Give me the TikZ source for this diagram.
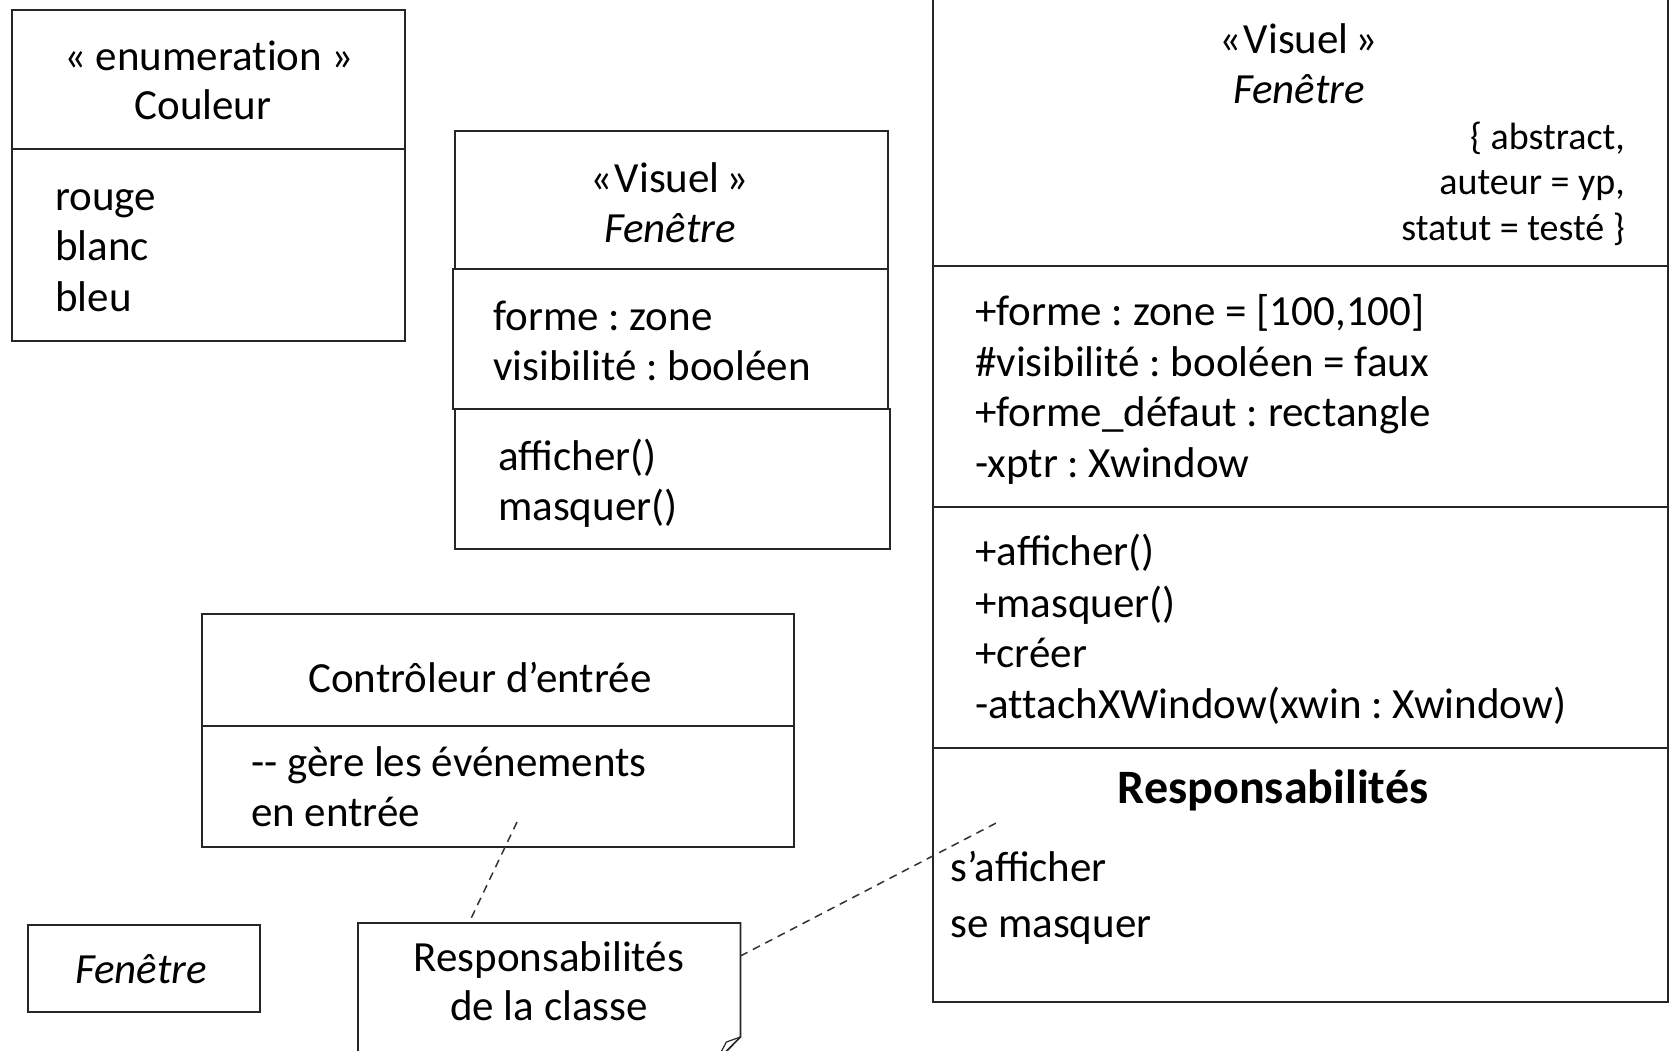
\documentclass[tikz,border=0pt]{standalone}
\usepackage{fontspec}
\setmainfont{Carlito}
\usetikzlibrary{calc}
\begin{document}
\frenchspacing
\begin{tikzpicture}[x=1pt,y=-1pt,
  box/.style={draw=black!85, line width=1.7pt, inner sep=0pt, anchor=north west},
  outline/.style={draw=black!85, line width=1.7pt, line join=miter},
  lbl/.style={anchor=base west, inner sep=0pt},
  mid/.style={anchor=base, inner sep=0pt},
  rgt/.style={anchor=base east, inner sep=0pt},
  small/.style={font=\fontsize{38}{44}\selectfont},
  title/.style={font=\fontsize{48}{54}\selectfont\bfseries},
  dashline/.style={draw=black!80, line width=1.5pt, dash pattern=on 8pt off 6pt}]
\fontsize{43}{50}\selectfont
\clip (0,0) rectangle (1669,1050);
\fill[white] (0,0) rectangle (1669,1050);

% enumeration Couleur
\node[box, minimum width=393pt, minimum height=139pt] (couleurHead) at (11,9) {};
\node[box, minimum width=393pt, minimum height=192pt] (couleurBody) at (11,148) {};
\node[mid] (enumSt) at (209,70) {« enumerat\kern0pt ion »};
\node[mid] (enumName) at (203,119) {Couleur};
\node[lbl] (litRouge) at (55,210) {rouge};
\node[lbl] (litBlanc) at (55,260) {blanc};
\node[lbl] (litBleu) at (55,311) {bleu};

% class Fenetre, simple form
\node[box, minimum width=433pt, minimum height=138pt] (fenHead) at (454,130) {};
\node[box, minimum width=435pt, minimum height=140pt] (fenAttr) at (452,268) {};
\node[box, minimum width=435pt, minimum height=140pt] (fenOps) at (454,408) {};
\node[mid] (fenSt) at (670,192) {«\kern2pt Visuel\,»};
\node[mid] (fenName) at (670,242) {\itshape Fenêtre};
\node[lbl] (fenA1) at (493,330) {forme : zone};
\node[lbl] (fenA2) at (493,380) {visibilité : booléen};
\node[lbl] (fenO1) at (498,470) {afficher()};
\node[lbl] (fenO2) at (498,520) {masquer()};

% class Controleur d'entree
\node[box, minimum width=592pt, minimum height=112pt] (ctrlHead) at (201,613) {};
\node[box, minimum width=592pt, minimum height=121pt] (ctrlBody) at (201,725) {};
\node[mid] (ctrlName) at (480,692) {Contrôleur d’entrée};
\node[lbl] (ctrlC1) at (251,776) {{-}{-} gère les événements};
\node[lbl] (ctrlC2) at (251,826) {en entrée};

% class Fenetre, name only
\node[box, minimum width=232pt, minimum height=87pt] (fenMini) at (27,924) {};
\node[mid] (fenMiniName) at (141,983) {\itshape Fenêtre};

% class Fenetre, detailed form
\node[box, minimum width=735pt, minimum height=275pt] (bigHead) at (932,-10) {};
\node[box, minimum width=735pt, minimum height=241pt] (bigAttr) at (932,265) {};
\node[box, minimum width=735pt, minimum height=241pt] (bigOps) at (932,506) {};
\node[box, minimum width=735pt, minimum height=254pt] (bigResp) at (932,747) {};
\node[mid] (bigSt) at (1299,53) {«\kern2pt Visuel\,»};
\node[mid] (bigName) at (1299,103) {\itshape Fenêtre};
\node[rgt, small] (tag1) at (1625,149) {\{ abstract,};
\node[rgt, small] (tag2) at (1625,194) {auteur = yp,};
\node[rgt, small] (tag3) at (1625,240) {statut = testé \}};
\node[lbl] (bigA1) at (975,325) {+forme : zone = [100,100]};
\node[lbl] (bigA2) at (975,376) {\#visibilité : booléen = faux};
\node[lbl] (bigA3) at (975,426) {+forme\_défaut : rectangle};
\node[lbl] (bigA4) at (975,477) {-xptr : Xwindow};
\node[lbl] (bigO1) at (975,565) {+afficher()};
\node[lbl] (bigO2) at (975,617) {+masquer()};
\node[lbl] (bigO3) at (975,667) {+créer};
\node[lbl] (bigO4) at (975,718) {-at\kern0pt tachXWindow(xwin : Xwindow)};
\node[mid, title] (respTitle) at (1273,803) {Responsabilités};
\node[lbl] (resp1) at (950,881) {s’afficher};
\node[lbl] (resp2) at (950,937) {se masquer};

% note with folded corner
\node[inner sep=0pt, minimum width=382pt, minimum height=139pt, anchor=north west] (note) at (358,923) {};
\draw[outline] (note.south west) -- (note.north west) -- (note.north east)
  -- ($(note.north east)+(0,114)$) -- ($(note.south east)+(-25,0)$) -- cycle;
\draw[draw=black!85, line width=1.2pt] ($(note.north east)+(0,114)$) -- ($(note.north east)+(-14,119)$)
  -- ($(note.south east)+(-25,0)$);
\node[mid] (noteL1) at (549,971) {Responsabilités};
\node[mid] (noteL2) at (549,1020) {de la classe};

% anchors of the note links
\coordinate (ctrlTip) at (517,822);
\coordinate (respTip) at (1000,821);
\draw[dashline] (ctrlTip) -- ($(note.north west)!0.29!(note.north east)$);
\draw[dashline] ($(note.north east)+(0,33)$) -- (respTip);
\end{tikzpicture}
\end{document}
